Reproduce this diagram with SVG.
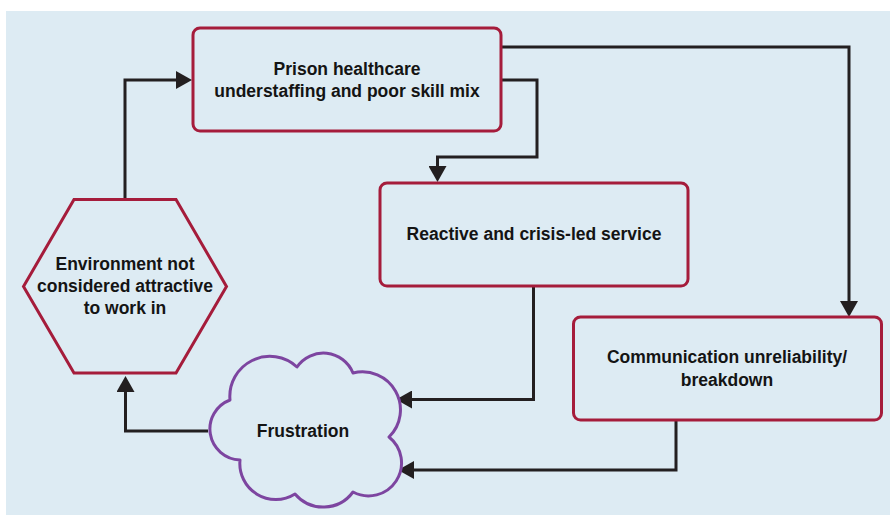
<svg xmlns="http://www.w3.org/2000/svg" width="890" height="515" viewBox="0 0 890 515">
  <style>
    .box { fill: #ddebf3; stroke: #a51c3b; stroke-width: 3; }
    .cloud { fill: #ddebf3; stroke: #7d45a0; stroke-width: 3; stroke-linejoin: round; }
    .lbl { font-family: "Liberation Sans", Arial, sans-serif; font-weight: bold; font-size: 17.5px; fill: #141414; text-anchor: middle; }
    .conn { fill: none; stroke: #231f20; stroke-width: 3; }
  </style>
  <defs>
    <marker id="arrow" markerUnits="userSpaceOnUse" viewBox="0 0 16 18" refX="1" refY="9" markerWidth="16" markerHeight="18" orient="auto">
      <path d="M0,0 L16,9 L0,18 Z" fill="#231f20"/>
    </marker>
  </defs>
  <rect x="6" y="11" width="884" height="504" fill="#ddebf3"/>

  <g id="connectors">
    <path class="conn" d="M125,199 V80 H177" marker-end="url(#arrow)"/>
    <path class="conn" d="M501,47 H849 V302" marker-end="url(#arrow)"/>
    <path class="conn" d="M501,80 H537 V157 H437.5 V167" marker-end="url(#arrow)"/>
    <path class="conn" d="M533.5,287 V399.5 H411" marker-end="url(#arrow)"/>
    <path class="conn" d="M676,420 V470 H413" marker-end="url(#arrow)"/>
    <path class="conn" d="M208,431 H125.5 V391" marker-end="url(#arrow)"/>
  </g>

  <g id="node-understaffing">
    <rect class="box" x="193" y="28" width="308" height="103" rx="7"/>
    <text class="lbl" x="347" y="75">Prison healthcare</text>
    <text class="lbl" x="347" y="97">understaffing and poor skill mix</text>
  </g>

  <g id="node-reactive">
    <rect class="box" x="380" y="183" width="308" height="103" rx="7"/>
    <text class="lbl" x="534" y="240">Reactive and crisis-led service</text>
  </g>

  <g id="node-communication">
    <rect class="box" x="573.5" y="317" width="308" height="103" rx="7"/>
    <text class="lbl" x="727" y="363">Communication unreliability/</text>
    <text class="lbl" x="727" y="386">breakdown</text>
  </g>

  <g id="node-environment">
    <polygon class="box" points="74,199.5 176,199.5 226.5,286.5 176,373 74,373 23.5,286.5"/>
    <text class="lbl" x="125" y="270">Environment not</text>
    <text class="lbl" x="125" y="292">considered attractive</text>
    <text class="lbl" x="125" y="314">to work in</text>
  </g>

  <g id="node-frustration">
    <path class="cloud" d="M230,400 A40,40 0 0,1 297,367 A32,32 0 0,1 353,373 A38,38 0 0,1 389,437 A33,33 0 0,1 353,492 A37,37 0 0,1 295,494 A36,36 0 0,1 240,460 A31,31 0 0,1 230,400 Z"/>
    <text class="lbl" x="303" y="437">Frustration</text>
  </g>
</svg>
